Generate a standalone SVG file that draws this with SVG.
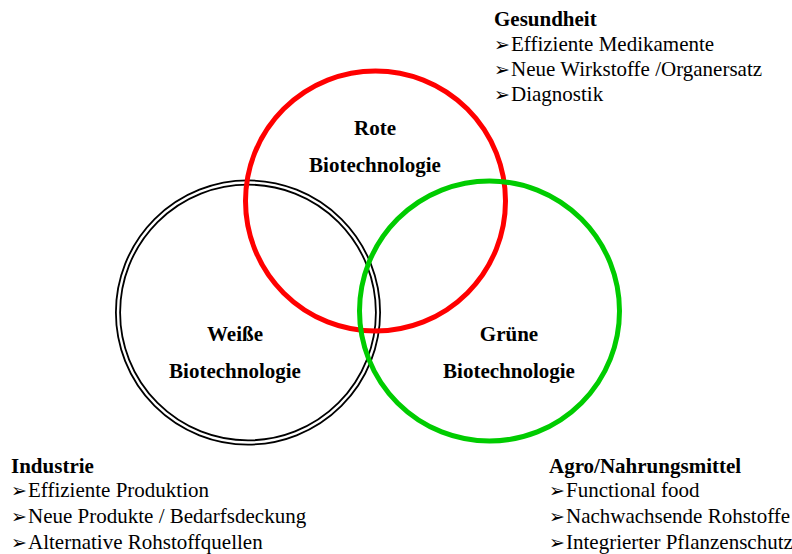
<svg xmlns="http://www.w3.org/2000/svg" width="792" height="554" viewBox="0 0 792 554">
<defs>
<style>
.t{font-family:"Liberation Serif","Times New Roman",serif;font-size:21px;fill:#000}
.b{font-weight:bold}
.m{text-anchor:middle;font-weight:bold}
.ar{font-family:"DejaVu Sans",sans-serif;font-size:19px;fill:#000}
</style>
</defs>
<rect width="792" height="554" fill="#fff"/>
<g id="weisse">
<circle cx="248" cy="312.5" r="130" fill="none" stroke="#000" stroke-width="6"/>
<circle cx="248" cy="312.5" r="130" fill="none" stroke="#fff" stroke-width="2.4"/>
</g>
<g id="rote">
<circle cx="375.5" cy="201" r="130" fill="none" stroke="#ff0000" stroke-width="5"/>
</g>
<g id="gruene">
<circle cx="489.5" cy="311" r="130" fill="none" stroke="#00cc00" stroke-width="5"/>
</g>
<g id="labels">
<text class="t m" x="375" y="135">Rote</text>
<text class="t m" x="375" y="172">Biotechnologie</text>
<text class="t m" x="235" y="341">Weiße</text>
<text class="t m" x="235" y="378">Biotechnologie</text>
<text class="t m" x="509" y="341">Grüne</text>
<text class="t m" x="509" y="378">Biotechnologie</text>
</g>
<g id="gesundheit">
<text class="t b" x="494" y="26">Gesundheit</text>
<text class="ar" x="494" y="51">➢</text><text class="t" x="511" y="51">Effiziente Medikamente</text>
<text class="ar" x="494" y="76">➢</text><text class="t" x="511" y="76">Neue Wirkstoffe /Organersatz</text>
<text class="ar" x="494" y="101">➢</text><text class="t" x="511" y="101">Diagnostik</text>
</g>
<g id="industrie">
<text class="t b" x="11" y="473">Industrie</text>
<text class="ar" x="11" y="497">➢</text><text class="t" x="28" y="497">Effiziente Produktion</text>
<text class="ar" x="11" y="523">➢</text><text class="t" x="28" y="523">Neue Produkte / Bedarfsdeckung</text>
<text class="ar" x="11" y="549">➢</text><text class="t" x="28" y="549">Alternative Rohstoffquellen</text>
</g>
<g id="agro">
<text class="t b" x="549" y="473">Agro/Nahrungsmittel</text>
<text class="ar" x="549" y="497">➢</text><text class="t" x="566" y="497">Functional food</text>
<text class="ar" x="549" y="523">➢</text><text class="t" x="566" y="523">Nachwachsende Rohstoffe</text>
<text class="ar" x="549" y="549">➢</text><text class="t" x="566" y="549">Integrierter Pflanzenschutz</text>
</g>
</svg>
